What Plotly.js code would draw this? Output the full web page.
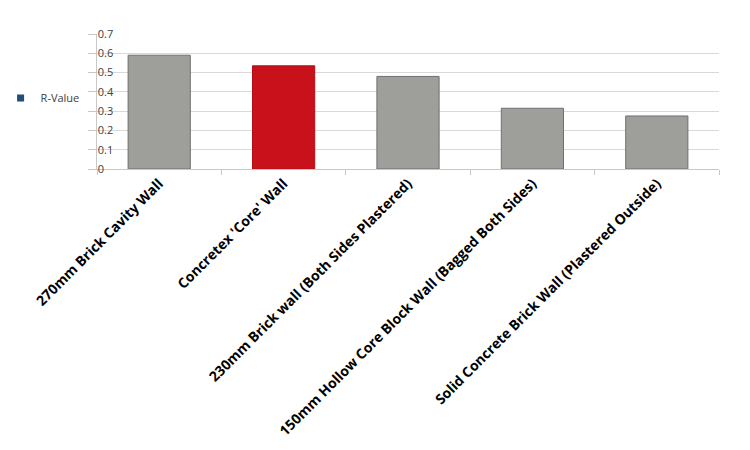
<!DOCTYPE html>
<html>
<head>
<meta charset="utf-8">
<script src="https://cdn.plot.ly/plotly-3.0.1.min.js"></script>
<style>html,body{margin:0;padding:0;background:#fff;}#chart{width:750px;height:450px;}</style>
</head>
<body>
<div id="chart"></div>
<script>
var categories = [
  "270mm Brick Cavity Wall",
  "Concretex 'Core' Wall",
  "230mm Brick wall (Both Sides Plastered)",
  "150mm Hollow Core Block Wall (Bagged Both Sides)",
  "Solid Concrete Brick Wall (Plastered Outside)"
];
var rValues = [0.59, 0.535, 0.48, 0.315, 0.275];
var barColors = ["#9e9e9b", "#c8111a", "#9e9e9b", "#9e9e9b", "#9e9e9b"];
var lineColors = ["#707070", "#b00e16", "#707070", "#707070", "#707070"];
var seriesName = "R-Value";
var yTicks = [0, 0.1, 0.2, 0.3, 0.4, 0.5, 0.6, 0.7];
var yTickText = ["0", "0.1", "0.2", "0.3", "0.4", "0.5", "0.6", "0.7"];

var traces = [
  {
    type: "bar",
    x: categories,
    y: rValues,
    name: seriesName,
    showlegend: false,
    marker: { color: barColors, line: { color: lineColors, width: 1 } },
    hoverinfo: "x+y"
  },
  {
    type: "scatter",
    mode: "markers",
    x: [categories[0]],
    y: [null],
    name: seriesName,
    showlegend: true,
    marker: { symbol: "square", color: "#1f4e79", size: 7 },
    hoverinfo: "skip"
  }
];

var layout = {
  width: 750,
  height: 450,
  margin: { l: 97, r: 31, t: 34, b: 281, autoexpand: false },
  paper_bgcolor: "#ffffff",
  plot_bgcolor: "#ffffff",
  font: { family: "Open Sans, sans-serif", color: "#404040", size: 11 },
  bargap: 0.5,
  showlegend: true,
  legend: {
    x: -0.155, xanchor: "left", y: 0.526, yanchor: "middle",
    font: { size: 11, color: "#404040" },
    bgcolor: "rgba(0,0,0,0)", itemwidth: 30
  },
  xaxis: {
    type: "category",
    range: [-0.5, categories.length - 0.5],
    autorange: false,
    tickangle: -45,
    tickfont: { family: "Open Sans, sans-serif", size: 14, color: "#000000", weight: "bold" },
    showline: true, linecolor: "#c8c8c8", linewidth: 1,
    ticks: "outside", tickson: "boundaries", ticklen: 5, tickcolor: "#c8c8c8",
    showgrid: false, zeroline: false
  },
  yaxis: {
    range: [0, 0.7],
    autorange: false,
    tickvals: yTicks,
    ticktext: yTickText,
    tickfont: { size: 11, color: "#404040" },
    ticklabelposition: "inside",
    ticklabeloverflow: "allow",
    showline: true, linecolor: "#c8c8c8", linewidth: 1,
    ticks: "outside", ticklen: 8, tickcolor: "#c8c8c8",
    showgrid: true, gridcolor: "#d9d9d9", gridwidth: 1,
    zeroline: false
  }
};

Plotly.newPlot("chart", traces, layout, { displayModeBar: false, staticPlot: true });
</script>
</body>
</html>
